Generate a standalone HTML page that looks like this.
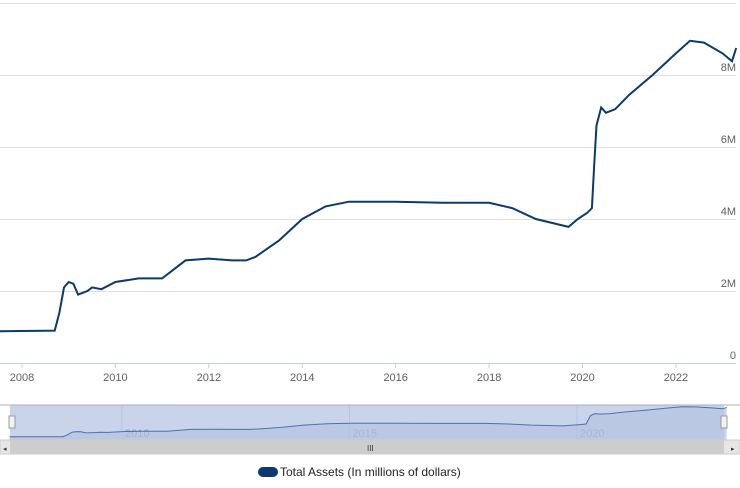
<!DOCTYPE html>
<html><head><meta charset="utf-8"><style>
body{margin:0;background:#fff;font-family:"Liberation Sans",sans-serif}
svg text{font-family:"Liberation Sans",sans-serif}
</style></head><body>
<svg width="740" height="483" viewBox="0 0 740 483">
<g id="grid"></g>
<g id="yticks"></g>
<line x1="0" y1="363.5" x2="736" y2="363.5" stroke="#c0d0e0"/>
<g id="xticks"></g>
<path id="main" fill="none" stroke="#0a3a6e" stroke-width="2"/>
<g>
<rect x="0" y="405" width="740" height="35" fill="#fff"/>
<rect x="10" y="405" width="714" height="35" fill="#c9d3ea"/>
<g id="navgrid"></g>
<path id="navarea" fill="#b5c3e0" opacity="0.7"/>
<path id="navline" fill="none" stroke="#4a72b0" stroke-width="1"/>
<line x1="0" y1="405" x2="740" y2="405" stroke="#b0b0b0"/>
<rect x="9" y="416" width="6" height="12" fill="#f2f2f2" stroke="#999"/>
<rect x="721" y="416" width="6" height="12" fill="#f2f2f2" stroke="#999"/>
</g>
<g>
<rect x="0" y="440" width="740" height="14" fill="#e6e6e6" stroke="#ccc"/>
<rect x="10" y="440" width="714" height="14" fill="#cdcdcd"/>
<text x="367" y="451" font-size="8" fill="#333">III</text>
<text x="3" y="451" font-size="7" fill="#333">◂</text>
<text x="731" y="451" font-size="7" fill="#333">▸</text>
</g>
<g>
<rect x="258" y="467" width="20" height="10" rx="5" fill="#0a3a6e"/>
<text x="280" y="476" font-size="12" fill="#222">Total Assets (In millions of dollars)</text>
</g>
</svg>
<script>
const years=[2007.53,2008.7,2008.8,2008.9,2009.0,2009.1,2009.2,2009.4,2009.5,2009.7,2010.0,2010.5,2011.0,2011.5,2012.0,2012.5,2012.8,2013.0,2013.5,2014.0,2014.5,2015.0,2016.0,2017.0,2018.0,2018.5,2019.0,2019.7,2019.9,2020.1,2020.2,2020.25,2020.3,2020.4,2020.5,2020.7,2021.0,2021.5,2022.0,2022.3,2022.6,2023.0,2023.2,2023.29];
const assets=[0.88,0.9,1.4,2.1,2.25,2.2,1.9,2.0,2.1,2.05,2.25,2.35,2.35,2.85,2.9,2.85,2.85,2.95,3.4,4.0,4.35,4.48,4.48,4.45,4.45,4.3,4.0,3.78,4.0,4.17,4.3,5.5,6.6,7.1,6.95,7.05,7.45,8.0,8.6,8.95,8.9,8.6,8.38,8.75];
const yTicks=[0,2,4,6,8,10];
const xTicks=[2008,2010,2012,2014,2016,2018,2020,2022];
const navTicks=[2010,2015,2020];
const NS="http://www.w3.org/2000/svg";
const x=v=>22+(v-2008)*46.71, y=v=>363-v*36;
const nx=v=>122+(v-2010)*45.5, ny=v=>440-v*3.72;
function mk(t,a,p){const e=document.createElementNS(NS,t);for(const k in a)e.setAttribute(k,a[k]);document.getElementById(p).appendChild(e);return e;}
yTicks.forEach(t=>{
 if(t>0){const l=mk('line',{x1:0,x2:736,y1:y(t)+0.5,y2:y(t)+0.5,stroke:'#e0e0e0'},'grid');
 
 }
 if(t<10){const tx=mk('text',{x:736,y:y(t)-4,'text-anchor':'end','font-size':11,fill:'#606060'},'yticks');tx.textContent=t===0?'0':t+'M';
 
 }
});
xTicks.forEach(t=>{
 const l=mk('line',{x1:x(t),x2:x(t),y1:363,y2:368,stroke:'#c0d0e0'},'xticks');
 
 
 const tx=mk('text',{x:x(t),y:381,'text-anchor':'middle','font-size':11,fill:'#606060'},'xticks');tx.textContent=t;
 
 
});
navTicks.forEach(t=>{
 const l=mk('line',{x1:nx(t),x2:nx(t),y1:405,y2:440,stroke:'#b8c4dc'},'navgrid');
 
 
 const tx=mk('text',{x:nx(t)+3,y:437,'font-size':11,fill:'#8a94a8'},'navgrid');tx.textContent=t;
 
 
});
let d='',nd='';
years.forEach((yr,i)=>{d+=(i?'L':'M')+x(yr).toFixed(1)+','+y(assets[i]).toFixed(1);nd+=(i?'L':'M')+nx(yr).toFixed(1)+','+ny(assets[i]).toFixed(1);});
document.getElementById('main').setAttribute('d',d);
document.getElementById('navline').setAttribute('d',nd);
document.getElementById('navarea').setAttribute('d',nd+'L'+nx(years[years.length-1])+',440L'+nx(years[0])+',440Z');
</script>
</body></html>
